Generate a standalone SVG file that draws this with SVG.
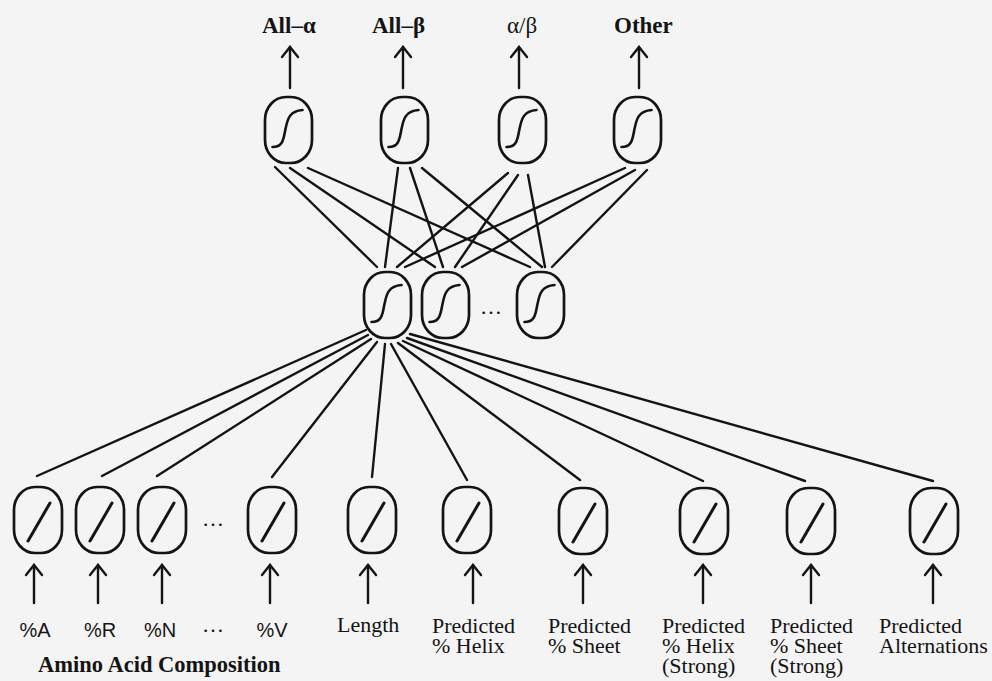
<svg xmlns="http://www.w3.org/2000/svg" xmlns:xlink="http://www.w3.org/1999/xlink" width="992" height="681" viewBox="0 0 992 681">
<style>
.bg{fill:#f4f4f4}
.unit{fill:none;stroke:#141414;stroke-width:2.7}
.sig{fill:none;stroke:#141414;stroke-width:2.6;stroke-linecap:round}
.lin{fill:none;stroke:#141414;stroke-width:3;stroke-linecap:round}
.conn line{stroke:#141414;stroke-width:2.4;stroke-linecap:round}
.arr{fill:none;stroke:#141414;stroke-width:2.4;stroke-linecap:round;stroke-linejoin:miter}
.lbl{font-family:"Liberation Serif","Times New Roman",serif;font-size:22px;fill:#141414}
.top{font-size:23px}
.bold{font-weight:bold}
.sans{font-family:"Liberation Sans",Arial,sans-serif;font-size:20px;fill:#141414}
.dots{font-family:"Liberation Serif",serif;font-size:22px;fill:#141414}
</style>
<defs>
<path id="sigmoid" class="sig" d="M -16 17 C -5 17 -5 8 -3 -1 C -1 -11 1 -19 14 -20"/>
<path id="linear" class="lin" d="M -10 21 L 12 -17"/>
<path id="arrowhead" d="M -8 10 L 0 0 L 8 10"/>
</defs>
<rect class="bg" x="0" y="0" width="992" height="681"/>

<g id="connectors">
<g class="conn">
<line x1="275" y1="167" x2="377" y2="267"/>
<line x1="290" y1="168" x2="435" y2="267"/>
<line x1="308" y1="168" x2="530" y2="267"/>
<line x1="398" y1="168" x2="385" y2="267"/>
<line x1="410" y1="168" x2="443" y2="267"/>
<line x1="422" y1="168" x2="542" y2="267"/>
<line x1="508" y1="173" x2="397" y2="267"/>
<line x1="518" y1="175" x2="455" y2="267"/>
<line x1="528" y1="175" x2="545" y2="267"/>
<line x1="625" y1="168" x2="405" y2="267"/>
<line x1="635" y1="170" x2="462" y2="267"/>
<line x1="647" y1="170" x2="552" y2="267"/>

<line x1="366" y1="330" x2="37" y2="476"/>
<line x1="368" y1="335" x2="102" y2="476"/>
<line x1="371" y1="339" x2="157" y2="476"/>
<line x1="377" y1="342" x2="272" y2="477"/>
<line x1="385" y1="344" x2="372" y2="477"/>
<line x1="391" y1="344" x2="467" y2="480"/>
<line x1="398" y1="343" x2="580" y2="480"/>
<line x1="403" y1="341" x2="703" y2="481"/>
<line x1="407" y1="338" x2="805" y2="481"/>
<line x1="410" y1="334" x2="933" y2="481"/>
</g>
<g class="arr">
<line x1="290" y1="88" x2="290" y2="47"/><use xlink:href="#arrowhead" x="290" y="47"/>
<line x1="403" y1="88" x2="403" y2="47"/><use xlink:href="#arrowhead" x="403" y="47"/>
<line x1="519" y1="88" x2="519" y2="47"/><use xlink:href="#arrowhead" x="519" y="47"/>
<line x1="639" y1="88" x2="639" y2="47"/><use xlink:href="#arrowhead" x="639" y="47"/>

<line x1="34" y1="603" x2="34" y2="565"/><use xlink:href="#arrowhead" x="34" y="565"/>
<line x1="98" y1="603" x2="98" y2="565"/><use xlink:href="#arrowhead" x="98" y="565"/>
<line x1="162" y1="603" x2="162" y2="565"/><use xlink:href="#arrowhead" x="162" y="565"/>
<line x1="270" y1="603" x2="270" y2="565"/><use xlink:href="#arrowhead" x="270" y="565"/>
<line x1="368" y1="603" x2="368" y2="565"/><use xlink:href="#arrowhead" x="368" y="565"/>
<line x1="473" y1="603" x2="473" y2="565"/><use xlink:href="#arrowhead" x="473" y="565"/>
<line x1="583" y1="603" x2="583" y2="565"/><use xlink:href="#arrowhead" x="583" y="565"/>
<line x1="703" y1="603" x2="703" y2="565"/><use xlink:href="#arrowhead" x="703" y="565"/>
<line x1="811" y1="603" x2="811" y2="565"/><use xlink:href="#arrowhead" x="811" y="565"/>
<line x1="933" y1="603" x2="933" y2="565"/><use xlink:href="#arrowhead" x="933" y="565"/>
</g>
</g>

<g id="out-all-alpha"><rect class="unit" x="265" y="97" width="47" height="66" rx="21" ry="23"/><use xlink:href="#sigmoid" x="288.5" y="130"/><text class="lbl top bold" x="262" y="33">All–α</text></g>
<g id="out-all-beta"><rect class="unit" x="381" y="97" width="47" height="66" rx="21" ry="23"/><use xlink:href="#sigmoid" x="404.5" y="130"/><text class="lbl top bold" x="372" y="33">All–β</text></g>
<g id="out-alpha-beta"><rect class="unit" x="499" y="97" width="47" height="66" rx="21" ry="23"/><use xlink:href="#sigmoid" x="522.5" y="130"/><text class="lbl top" x="507" y="33">α/β</text></g>
<g id="out-other"><rect class="unit" x="614" y="97" width="47" height="66" rx="21" ry="23"/><use xlink:href="#sigmoid" x="637.5" y="130"/><text class="lbl top bold" x="614" y="33">Other</text></g>

<g id="hidden-1"><rect class="unit" x="364" y="272" width="47" height="66" rx="21" ry="23"/><use xlink:href="#sigmoid" x="387.5" y="305"/></g>
<g id="hidden-2"><rect class="unit" x="422" y="272" width="47" height="66" rx="21" ry="23"/><use xlink:href="#sigmoid" x="445.5" y="305"/></g>
<g id="hidden-dots"><text class="dots" x="480" y="314">…</text></g>
<g id="hidden-n"><rect class="unit" x="517" y="272" width="47" height="66" rx="21" ry="23"/><use xlink:href="#sigmoid" x="540.5" y="305"/></g>

<g id="in-A"><rect class="unit" x="14" y="487" width="48" height="66" rx="21" ry="23"/><use xlink:href="#linear" x="38" y="520"/><text class="sans" x="35" y="637" text-anchor="middle">%A</text></g>
<g id="in-R"><rect class="unit" x="76" y="487" width="48" height="66" rx="21" ry="23"/><use xlink:href="#linear" x="100" y="520"/><text class="sans" x="100" y="637" text-anchor="middle">%R</text></g>
<g id="in-N"><rect class="unit" x="138" y="487" width="48" height="66" rx="21" ry="23"/><use xlink:href="#linear" x="162" y="520"/><text class="sans" x="160" y="637" text-anchor="middle">%N</text></g>
<g id="in-dots"><text class="dots" x="202" y="526">…</text><text class="dots" x="202" y="632">…</text></g>
<g id="in-V"><rect class="unit" x="248" y="487" width="48" height="66" rx="21" ry="23"/><use xlink:href="#linear" x="272" y="520"/><text class="sans" x="272" y="637" text-anchor="middle">%V</text></g>
<g id="in-length"><rect class="unit" x="348" y="487" width="48" height="66" rx="21" ry="23"/><use xlink:href="#linear" x="372" y="520"/><text class="lbl" x="337" y="632">Length</text></g>
<g id="in-helix"><rect class="unit" x="443" y="487" width="48" height="66" rx="21" ry="23"/><use xlink:href="#linear" x="467" y="520"/><text class="lbl" x="432" y="633">Predicted<tspan x="432" dy="20">% Helix</tspan></text></g>
<g id="in-sheet"><rect class="unit" x="559" y="488" width="48" height="66" rx="21" ry="23"/><use xlink:href="#linear" x="583" y="521"/><text class="lbl" x="548" y="633">Predicted<tspan x="548" dy="20">% Sheet</tspan></text></g>
<g id="in-helix-strong"><rect class="unit" x="680" y="488" width="48" height="66" rx="21" ry="23"/><use xlink:href="#linear" x="704" y="521"/><text class="lbl" x="662" y="633">Predicted<tspan x="662" dy="20">% Helix</tspan><tspan x="662" dy="20">(Strong)</tspan></text></g>
<g id="in-sheet-strong"><rect class="unit" x="787" y="488" width="48" height="66" rx="21" ry="23"/><use xlink:href="#linear" x="811" y="521"/><text class="lbl" x="770" y="633">Predicted<tspan x="770" dy="20">% Sheet</tspan><tspan x="770" dy="20">(Strong)</tspan></text></g>
<g id="in-alternations"><rect class="unit" x="910" y="488" width="48" height="66" rx="21" ry="23"/><use xlink:href="#linear" x="934" y="521"/><text class="lbl" x="879" y="633">Predicted<tspan x="879" dy="20">Alternations</tspan></text></g>

<g id="group-label"><text class="lbl bold" x="38" y="672" style="font-size:22.5px">Amino Acid Composition</text></g>
</svg>
